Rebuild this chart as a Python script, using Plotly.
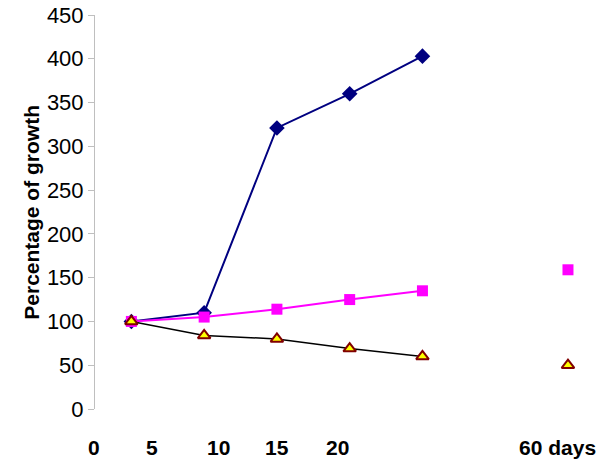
import plotly.graph_objects as go

# category slots along the x axis (slot 6 is empty in the original)
slots = [1, 2, 3, 4, 5, 7]

blue_vals = [100, 110, 321, 360, 403, None]
pink_vals = [100, 105, 114, 125, 135, 159]
tri_vals = [100, 84, 80, 69, 60, 50]

# label positions (in slot units) and texts under the axis
label_pos = [0.49, 1.29, 2.2, 3.0, 3.83, 6.86]
label_text = ["0", "5", "10", "15", "20", "60 days"]

y_ticks = [0, 50, 100, 150, 200, 250, 300, 350, 400, 450]

x_range = [0.5, 7.44]

fig = go.Figure()

fig.add_trace(go.Scatter(
    x=slots[:5], y=blue_vals[:5], mode="lines+markers",
    line=dict(color="#000080", width=2),
    marker=dict(symbol="diamond", size=12, color="#000080"),
))
fig.add_trace(go.Scatter(
    x=slots[:5], y=pink_vals[:5], mode="lines+markers",
    line=dict(color="#FF00FF", width=2),
    marker=dict(symbol="square", size=11, color="#FF00FF"),
))
fig.add_trace(go.Scatter(
    x=slots[5:], y=pink_vals[5:], mode="markers",
    marker=dict(symbol="square", size=11, color="#FF00FF"),
))
fig.add_trace(go.Scatter(
    x=slots[:5], y=tri_vals[:5], mode="lines+markers",
    line=dict(color="black", width=1.5),
    marker=dict(symbol="triangle-up", size=11, color="#FFFF00",
                line=dict(color="#800000", width=2)),
))
fig.add_trace(go.Scatter(
    x=slots[5:], y=tri_vals[5:], mode="markers",
    marker=dict(symbol="triangle-up", size=11, color="#FFFF00",
                line=dict(color="#800000", width=2)),
))

span = x_range[1] - x_range[0]
for pos, txt in zip(label_pos, label_text):
    fig.add_annotation(x=(pos - x_range[0]) / span, y=0, xref="paper", yref="paper",
                       yshift=-38, text=f"<b>{txt}</b>", showarrow=False,
                       xanchor="center", yanchor="middle",
                       font=dict(size=21, color="black"))

fig.add_annotation(x=-0.154, y=0.5, xref="paper", yref="paper",
                   text="<b>Percentage of growth</b>", textangle=-90,
                   showarrow=False, font=dict(size=21, color="black"))

fig.update_layout(
    width=600, height=467,
    margin=dict(l=95, r=0, t=15, b=58),
    paper_bgcolor="white", plot_bgcolor="white",
    showlegend=False,
    font=dict(family="Liberation Sans, Arial, sans-serif", color="black"),
)
fig.update_xaxes(range=x_range, showticklabels=False, showgrid=False,
                 zeroline=False, showline=False, ticks="")
fig.update_yaxes(range=[0, 450], tickvals=y_ticks, showgrid=False,
                 zeroline=False, showline=True, linecolor="#BFBFBF",
                 linewidth=1, ticks="outside", ticklen=6, tickcolor="#BFBFBF",
                 tickfont=dict(size=22, color="black"))

# drop the default body margin so the figure fills the window exactly
fig.write_html("out.html",
               config={"displayModeBar": False},
               post_script="document.body.style.margin='0';"
                           "document.body.style.overflow='hidden';")
